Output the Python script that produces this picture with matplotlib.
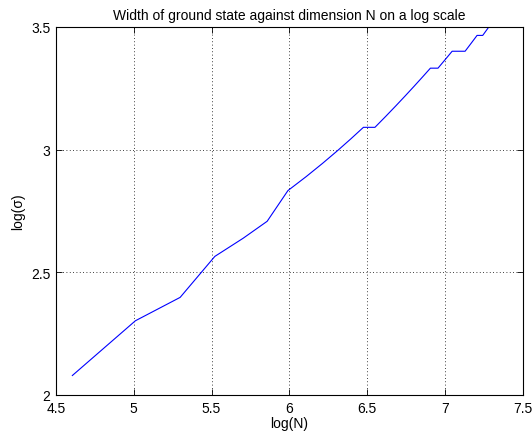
import numpy as np
import matplotlib
matplotlib.use('Agg')
import matplotlib.pyplot as plt

plt.rcParams['font.family'] = ['Liberation Sans', 'DejaVu Sans']
plt.rcParams['font.size'] = 10

# dimension N and width sigma of the ground state
dims = [100, 150, 200, 250, 300, 350, 400, 450, 500, 550, 600, 650, 700,
        750, 800, 850, 900, 950, 1000, 1050, 1100, 1150, 1200, 1250, 1300,
        1350, 1400, 1450]
widths = [8, 10, 11, 13, 14, 15, 17, 18, 19, 20, 21, 22, 22,
          23, 24, 25, 26, 27, 28, 28, 29, 30, 30, 30, 31,
          32, 32, 33]
x_ticks = [4.5, 5, 5.5, 6, 6.5, 7, 7.5]
y_ticks = [2, 2.5, 3, 3.5]

fig = plt.figure(figsize=(5.32, 4.39), dpi=100)
ax = fig.add_axes([56 / 532, 43 / 439, 466.5 / 532, 368 / 439])

ax.plot(np.log(dims), np.log(widths), color='#0000ff', lw=0.8)

ax.set_xlim(4.5, 7.5)
ax.set_ylim(2, 3.5)
ax.set_xticks(x_ticks)
ax.set_xticklabels(['4.5', '5', '5.5', '6', '6.5', '7', '7.5'])
ax.set_yticks(y_ticks)
ax.set_yticklabels(['2', '2.5', '3', '3.5'])
ax.tick_params(direction='in', length=4, width=0.6, top=True, right=True,
               pad=4, labelsize=10)
ax.grid(True, color='black', linestyle=(0, (1, 3)), lw=0.6)
for s in ax.spines.values():
    s.set_linewidth(0.8)

ax.set_title('Width of ground state against dimension N on a log scale',
             fontsize=10, pad=6)
ax.set_xlabel('log(N)', labelpad=1)
ax.set_ylabel('log(σ)', labelpad=4)

fig.savefig('out.png', dpi=100)
